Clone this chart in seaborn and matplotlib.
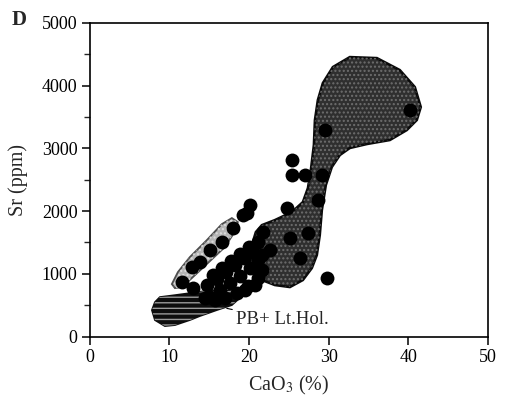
import numpy as np
import pandas as pd
import matplotlib
matplotlib.use("Agg")
import matplotlib.pyplot as plt
import seaborn as sns

# ---- data ----
# scattered sample points (CaCO3 %, Sr ppm)
dot_x = [25.4, 25.4, 27.0, 24.75, 20.1, 19.7, 17.96, 19.22,
         16.58, 15.08, 13.82, 12.81, 11.56, 12.94,
         15.45, 16.58, 17.71, 18.84, 19.97,
         15.08, 16.33, 17.59, 18.84, 20.10, 21.11,
         16.96, 18.47, 19.85, 21.11, 14.45,
         14.70, 15.95, 17.09, 18.22, 19.35, 20.48, 21.11,
         15.70, 19.47, 20.73, 21.61, 21.61,
         21.73, 25.13, 27.39, 29.77, 40.2, 29.15, 28.64, 29.52, 26.38, 22.61]
dot_y = [2810, 2575, 2575, 2048, 2105, 1969, 1730, 1937,
         1506, 1379, 1188, 1108, 869, 773,
         980, 1092, 1203, 1315, 1427,
         630, 741, 853, 964, 1092, 1219,
         614, 693, 805, 933, 614,
         821, 917, 1028, 1140, 1251, 1347, 1506,
         582, 741, 821, 1060, 1299,
         1666, 1570, 1650, 933, 3610, 2574, 2176, 3291, 1251, 1379]

# large field (dark stippled envelope)
body_x = [32.66, 36.06, 38.94, 40.83, 41.58, 41.08, 39.82, 37.69, 34.80, 32.66,
          31.41, 30.40, 29.65, 29.15, 28.89, 28.52, 27.89, 26.76, 25.13, 23.24,
          21.61, 20.10, 20.35, 20.85, 21.61, 23.24, 25.38, 26.76, 27.39, 27.76,
          28.14, 28.27, 28.64, 29.27, 30.53]
body_y = [4455, 4439, 4248, 3977, 3658, 3451, 3291, 3132, 3068, 3005,
          2893, 2702, 2415, 2016, 1618, 1299, 1092, 901, 789, 821,
          901, 1188, 1459, 1666, 1777, 1857, 1985, 2144, 2367, 2654,
          3053, 3451, 3770, 4041, 4296]

# PB + Lt.Hol. field (hatched)
pb_x = [7.79, 8.17, 8.79, 10.68, 12.56, 14.45, 15.95, 17.84, 19.10,
        17.84, 15.95, 13.82, 12.56, 10.68, 9.42, 8.17]
pb_y = [422, 550, 630, 661, 693, 725, 741, 725, 646,
        502, 422, 327, 263, 183, 167, 263]

# light stippled band
band_x = [10.30, 11.06, 12.56, 14.70, 16.58, 17.84, 18.59, 18.34, 16.96,
          14.82, 12.81, 11.56, 10.68]
band_y = [837, 1028, 1267, 1538, 1793, 1889, 1825, 1698, 1427,
          1172, 933, 789, 773]

x_ticks = [0, 10, 20, 30, 40, 50]
y_ticks = [0, 1000, 2000, 3000, 4000, 5000]
field_label = "PB+ Lt.Hol."

df = pd.DataFrame({"CaCO3": dot_x, "Sr": dot_y})

sns.set_style("ticks")
plt.rcParams["font.family"] = ["Liberation Serif", "DejaVu Serif"]
plt.rcParams["mathtext.fontset"] = "stix"
plt.rcParams["hatch.linewidth"] = 1.0

fig = plt.figure(figsize=(5.05, 4.08), dpi=100)
ax = fig.add_axes([0.178, 0.175, 0.788, 0.769])

# fields
ax.fill(body_x, body_y, facecolor="#2f2f2f", edgecolor="#0a0a0a", lw=1.8, zorder=2)
ax.fill(body_x, body_y, facecolor="none", edgecolor="#6e6e6e", hatch="....", lw=0, zorder=2.1)

ax.fill(pb_x, pb_y, facecolor="#0d0d0d", edgecolor="#0d0d0d", lw=1.2, zorder=2)
ax.fill(pb_x, pb_y, facecolor="none", edgecolor="#9a9a9a", hatch="---", lw=0, zorder=2.1)

ax.fill(band_x, band_y, facecolor="#b5b5b5", edgecolor="#4d4d4d", lw=1.3, zorder=2)
ax.fill(band_x, band_y, facecolor="none", edgecolor="#dddddd", hatch="....", lw=0, zorder=2.1)

sns.scatterplot(data=df, x="CaCO3", y="Sr", ax=ax, color="black", s=100,
                edgecolor="black", linewidth=0, zorder=3, legend=False)

ax.annotate(field_label, xy=(17.2, 450), xytext=(18.3, 265),
            fontsize=13.5, va="center", ha="left",
            arrowprops=dict(arrowstyle="-", color="black", lw=0.8,
                            shrinkA=0, shrinkB=0), zorder=4)

ax.set_xlim(0, 50)
ax.set_ylim(0, 5000)
ax.set_xticks(x_ticks)
ax.set_yticks(y_ticks)
ax.set_yticks(np.arange(500, 5000, 1000), minor=True)
ax.tick_params(axis="both", which="major", direction="out", length=6, width=1.1,
               labelsize=13, pad=3, colors="black")
ax.tick_params(axis="y", which="minor", direction="out", length=4, width=1.0)
for s in ax.spines.values():
    s.set_visible(True)
    s.set_linewidth(1.2)
    s.set_color("black")

ax.set_xlabel("CaO$_3$ (%)", fontsize=14.5, labelpad=6)
ax.set_ylabel("Sr (ppm)", fontsize=14.5, labelpad=10)

fig.text(0.024, 0.975, "D", fontsize=15, fontweight="bold", va="top", ha="left")

fig.savefig("out.png", dpi=100, facecolor="white")
